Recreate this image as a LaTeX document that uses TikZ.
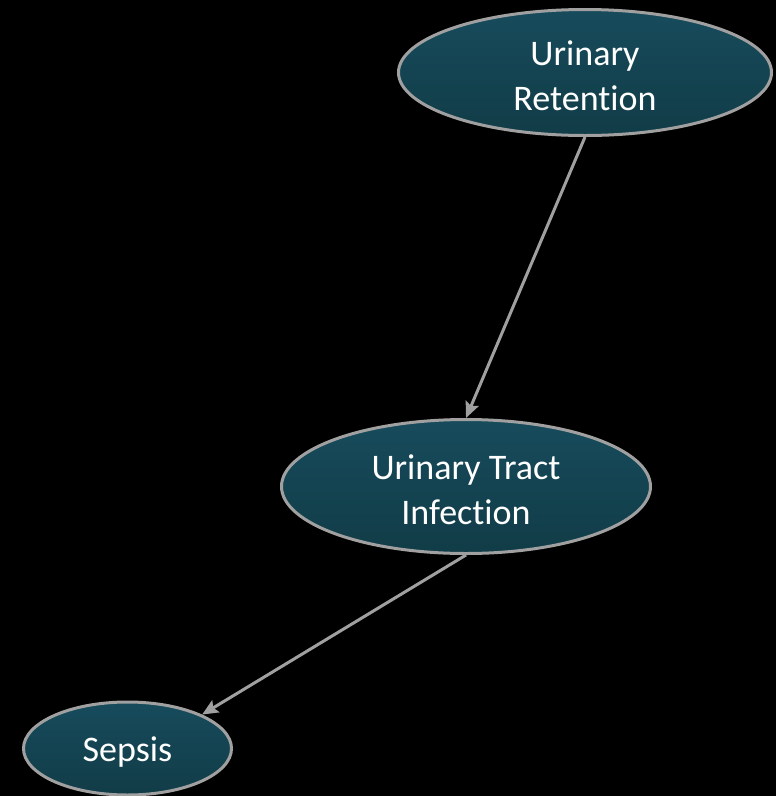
\documentclass[tikz,border=0pt]{standalone}
\usepackage{fontspec}
\setmainfont[Ligatures={NoCommon,NoRequired,NoContextual}]{Carlito}
\usetikzlibrary{shapes.geometric,arrows.meta}
\definecolor{edgegray}{HTML}{A0A0A0}
\definecolor{tealtop}{HTML}{174B5C}
\definecolor{tealbot}{HTML}{113C47}
\tikzset{
  x=1pt,y=-1pt,
  disease/.style={ellipse,draw=edgegray,line width=3pt,top color=tealtop,bottom color=tealbot,
    text=white,inner sep=0pt,font=\fontsize{36}{45}\selectfont,align=center},
  link/.style={draw=edgegray,line width=3pt,-{Stealth[length=16pt,width=14pt,inset=3pt]}}
}
\begin{document}
\begin{tikzpicture}
\fill[black] (0,0) rectangle (776,796);
\useasboundingbox (0,0) rectangle (776,796);
\node[disease,minimum width=373pt,minimum height=126pt] (ur) at (585,72.5) {\strut Urinary\\Retention};
\node[disease,minimum width=369pt,minimum height=134pt] (uti) at (466,486.5) {\strut Urinary Tract\\Infection};
\node[disease,minimum width=208pt,minimum height=93pt] (sep) at (127.5,748.5) {\raisebox{-4pt}[\height][\depth]{Sepsis}};
\draw[link] (ur.south) -- (uti.north);
\draw[link] (uti.south) -- (sep.north east);
\end{tikzpicture}
\end{document}
